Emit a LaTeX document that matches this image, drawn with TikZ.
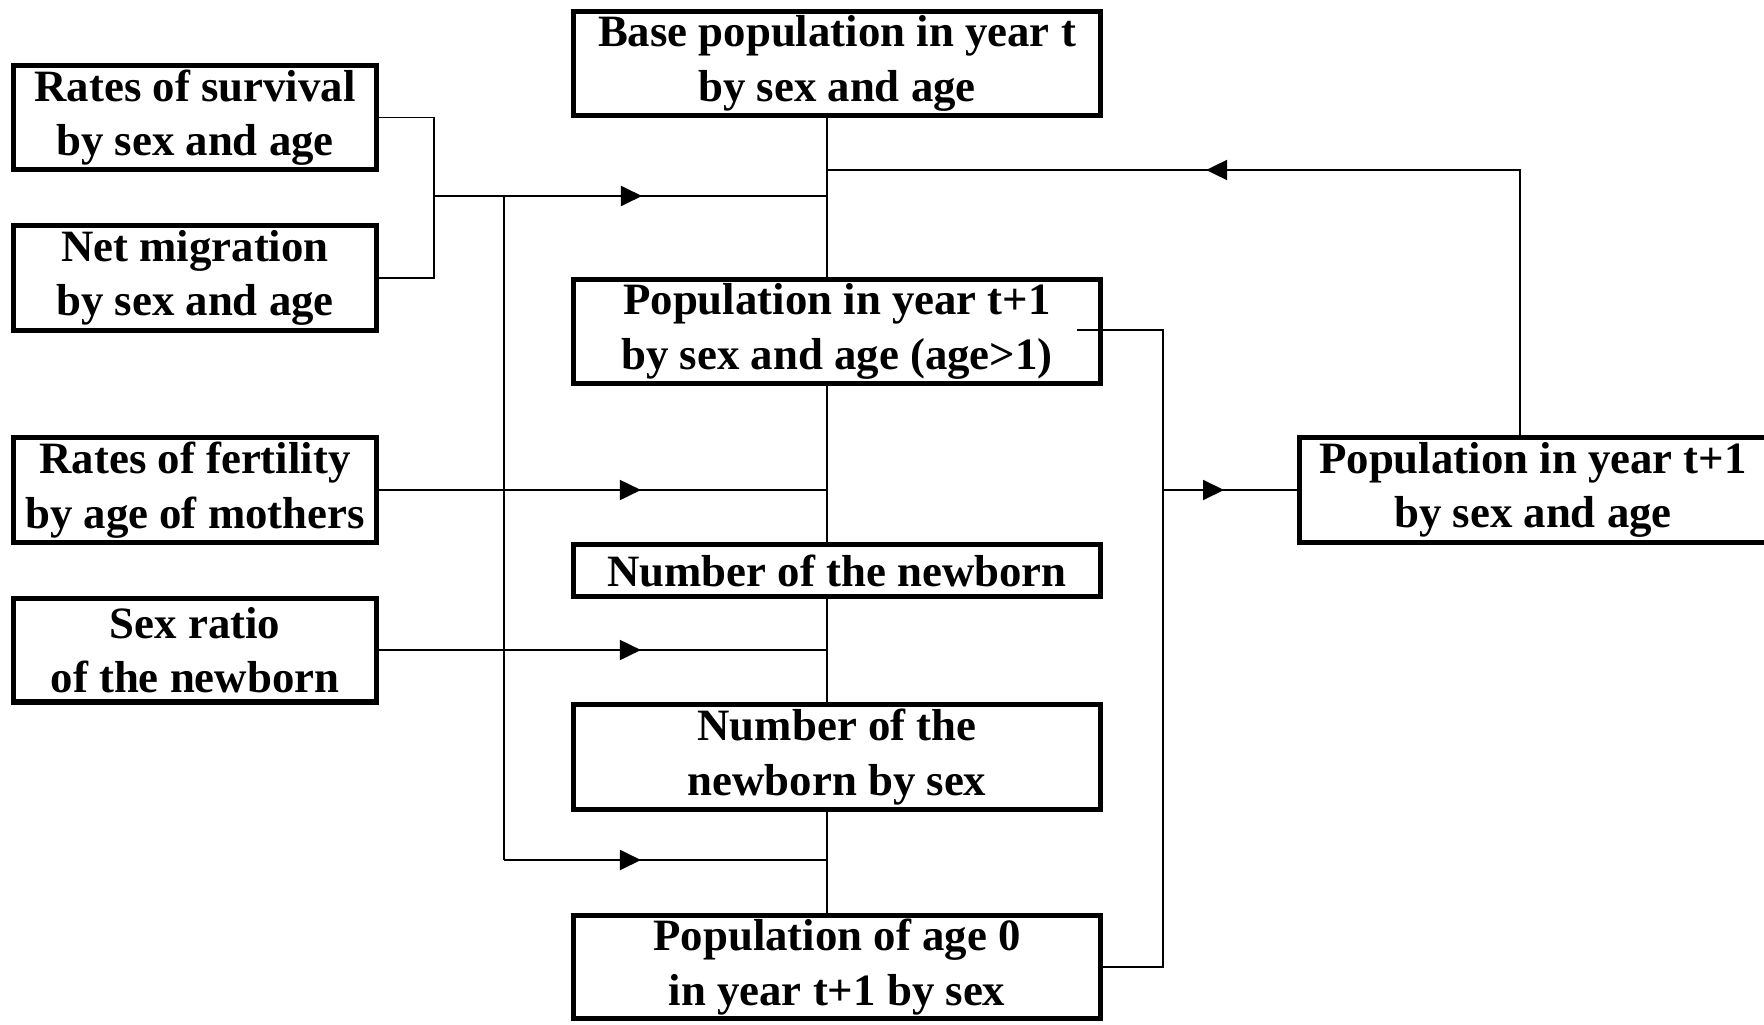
\documentclass[tikz,border=0pt]{standalone}
\usepackage{fontspec}
\setmainfont{Liberation Serif}
\usetikzlibrary{arrows.meta,decorations.markings}

\begin{document}
\begin{tikzpicture}[
    x=0.02cm, y=-0.02cm,
    % Estilo para las cajas de datos
    data box/.style={
        draw, line width=2.85pt, inner sep=0pt, outer sep=0pt,
        align=center, font=\fontsize{25.5}{31}\selectfont\bfseries
    },
    % Estilo para las líneas de flujo
    flow line/.style={line width=1.1pt},
    % Punta de flecha a mitad de línea (distancia desde el inicio)
    mid arrow/.style={
        flow line, postaction=decorate,
        decoration={markings,
            mark=at position #1 with {\arrow{Triangle[length=0.42cm,width=0.4cm]}}}
    }
]
    % Marco de la figura
    \useasboundingbox (0,0) rectangle (1764,1024);

    % Entradas a la izquierda
    \node [data box, minimum width=7.26cm, minimum height=2.08cm] (surv)  at (195,117.5) {Rates of survival\\by sex and age};
    \node [data box, minimum width=7.26cm, minimum height=2.1cm]  (migr)  at (195,278)   {Net migration\\by sex and age};
    \node [data box, minimum width=7.26cm, minimum height=2.1cm]  (fert)  at (195,490)   {Rates of fertility\\by age of mothers};
    \node [data box, minimum width=7.26cm, minimum height=2.08cm] (ratio) at (195,650)   {Sex ratio\\of the newborn};

    % Columna central
    \node [data box, minimum width=10.54cm, minimum height=2.08cm] (base)    at (837,63.5)  {Base population in year t\\by sex and age};
    \node [data box, minimum width=10.54cm, minimum height=2.08cm] (pop1)    at (837,331.5) {Population in year t+1\\by sex and age (age>1)};
    \node [data box, minimum width=10.54cm, minimum height=1.04cm] (newb)    at (837,570.5) {Number of the newborn};
    \node [data box, minimum width=10.54cm, minimum height=2.1cm]  (newbsex) at (837,757)   {Number of the\\newborn by sex};
    \node [data box, minimum width=10.54cm, minimum height=2.06cm] (age0)    at (837,967)   {Population of age 0\\in year t+1 by sex};

    % Resultado a la derecha
    \node [data box, minimum width=9.34cm, minimum height=2.1cm] (popfin) at (1533,490) {Population in year t+1\\by sex and age};

    % Puntos auxiliares
    \coordinate (sp)    at (827,0);    % eje vertical central
    \coordinate (brk)   at (434,196);  % unión supervivencia/migración
    \coordinate (bus)   at (504,196);  % bus izquierdo
    \coordinate (busend) at (504,860);
    \coordinate (fb)    at (1520,170); % retroalimentación
    \coordinate (p1out) at (1077,330);
    \coordinate (outr)  at (1163,330); % bus derecho

    % Supervivencia y migración
    \draw [flow line] (surv.east) -| (brk) |- (migr.east);
    \draw [mid arrow=4.16cm] (brk) -- (brk -| sp);
    \draw [flow line] (bus) -- (busend);
    \draw [mid arrow=2.74cm] (busend) -- (busend -| sp);

    % Eje central entre cajas
    \draw [flow line] (base.south -| sp) -- (pop1.north -| sp);
    \draw [flow line] (pop1.south -| sp) -- (newb.north -| sp);
    \draw [flow line] (newb.south -| sp) -- (newbsex.north -| sp);
    \draw [flow line] (newbsex.south -| sp) -- (age0.north -| sp);

    % Fecundidad y razón de sexos
    \draw [mid arrow=5.29cm] (fert.east) -- (fert.east -| sp);
    \draw [mid arrow=5.29cm] (ratio.east) -- (ratio.east -| sp);

    % Retroalimentación hacia el año base
    \draw [mid arrow=11.63cm] (popfin.north -| fb) -- (fb) -- (fb -| sp);

    % Salidas hacia la población final
    \draw [flow line] (p1out) -| (age0.east -| outr) -- (age0.east);
    \draw [mid arrow=1.22cm] (popfin.west -| outr) -- (popfin.west);

\end{tikzpicture}
\end{document}
